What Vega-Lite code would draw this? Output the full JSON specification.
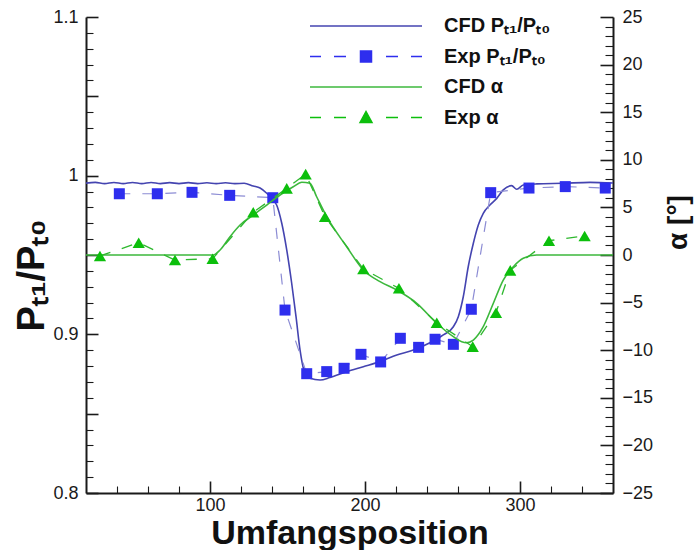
{
  "$schema": "https://vega.github.io/schema/vega-lite/v6.json",
  "width": 527,
  "height": 476,
  "autosize": {"type": "none"},
  "padding": {"left": 86, "top": 17, "right": 81, "bottom": 57},
  "background": "white",
  "config": {"view": {"stroke": null}, "font": "Liberation Sans"},
  "datasets": {
    "cfdP": [
      {"x": 20, "p": 0.9953}, {"x": 26, "p": 0.9958}, {"x": 32, "p": 0.995}, {"x": 38, "p": 0.9957},
      {"x": 44, "p": 0.995}, {"x": 50, "p": 0.9957}, {"x": 56, "p": 0.995}, {"x": 62, "p": 0.9957},
      {"x": 68, "p": 0.995}, {"x": 74, "p": 0.9956}, {"x": 80, "p": 0.995}, {"x": 86, "p": 0.9956},
      {"x": 92, "p": 0.995}, {"x": 98, "p": 0.9955}, {"x": 104, "p": 0.995}, {"x": 110, "p": 0.9955},
      {"x": 116, "p": 0.995}, {"x": 122, "p": 0.9952}, {"x": 127.9, "p": 0.9935}, {"x": 132.3, "p": 0.9922},
      {"x": 136.6, "p": 0.9889}, {"x": 143.0, "p": 0.9815}, {"x": 146.3, "p": 0.97}, {"x": 149.5, "p": 0.9532},
      {"x": 152.7, "p": 0.9322}, {"x": 155.5, "p": 0.9111}, {"x": 158.1, "p": 0.8901}, {"x": 160.6, "p": 0.8775},
      {"x": 164.5, "p": 0.8723}, {"x": 171.0, "p": 0.8712}, {"x": 177.4, "p": 0.8728}, {"x": 188.2, "p": 0.8765},
      {"x": 198.9, "p": 0.8796}, {"x": 209.7, "p": 0.8828}, {"x": 220.5, "p": 0.887}, {"x": 231.2, "p": 0.8901},
      {"x": 241.9, "p": 0.8947}, {"x": 250.5, "p": 0.8996}, {"x": 257.0, "p": 0.9048}, {"x": 260.2, "p": 0.9111},
      {"x": 263.4, "p": 0.9237}, {"x": 266.6, "p": 0.9426}, {"x": 269.9, "p": 0.9574}, {"x": 273.1, "p": 0.9689},
      {"x": 276.3, "p": 0.9763}, {"x": 280.6, "p": 0.9815}, {"x": 285.0, "p": 0.9857}, {"x": 289.2, "p": 0.991},
      {"x": 294.6, "p": 0.9937}, {"x": 297.9, "p": 0.9914}, {"x": 302.1, "p": 0.9941}, {"x": 310.8, "p": 0.9948},
      {"x": 327.9, "p": 0.9952}, {"x": 345.2, "p": 0.9958}, {"x": 360, "p": 0.9954}
    ],
    "expP": [
      {"x": 41.5, "p": 0.9886}, {"x": 66, "p": 0.9886}, {"x": 88.4, "p": 0.9895}, {"x": 112.7, "p": 0.9876},
      {"x": 140.5, "p": 0.9861}, {"x": 148.4, "p": 0.9153}, {"x": 162.4, "p": 0.8752}, {"x": 175.3, "p": 0.8765},
      {"x": 186.5, "p": 0.8786}, {"x": 197.4, "p": 0.8874}, {"x": 210.1, "p": 0.8826}, {"x": 222.8, "p": 0.8975},
      {"x": 234.6, "p": 0.8918}, {"x": 245.2, "p": 0.8969}, {"x": 257.0, "p": 0.8937}, {"x": 268.6, "p": 0.9158},
      {"x": 281.1, "p": 0.9893}, {"x": 305.8, "p": 0.9922}, {"x": 329.2, "p": 0.9931}, {"x": 355, "p": 0.9922}
    ],
    "cfdA": [
      {"x": 20, "a": 0}, {"x": 102.1, "a": 0}, {"x": 106.5, "a": 0.53}, {"x": 112.9, "a": 1.92},
      {"x": 119.4, "a": 3.15}, {"x": 127.9, "a": 4.2}, {"x": 136.6, "a": 5.25}, {"x": 145.2, "a": 6.3},
      {"x": 153.7, "a": 7.17}, {"x": 159.2, "a": 7.64}, {"x": 164.5, "a": 7.53}, {"x": 168.8, "a": 6.12},
      {"x": 175.3, "a": 4.02}, {"x": 188.2, "a": 0.87}, {"x": 198.9, "a": -1.58}, {"x": 209.7, "a": -2.8},
      {"x": 220.5, "a": -3.68}, {"x": 233.4, "a": -5.07}, {"x": 246.3, "a": -7.17}, {"x": 257.0, "a": -8.58},
      {"x": 262.4, "a": -9.11}, {"x": 265.6, "a": -9.21}, {"x": 269.9, "a": -8.93}, {"x": 276.3, "a": -7.53},
      {"x": 282.8, "a": -5.07}, {"x": 289.2, "a": -2.63}, {"x": 295.7, "a": -1.23}, {"x": 302.1, "a": -0.35},
      {"x": 310.8, "a": 0}, {"x": 360, "a": 0}
    ],
    "expA": [
      {"x": 29.0, "a": -0.1}, {"x": 54.0, "a": 1.29}, {"x": 77.4, "a": -0.53}, {"x": 101.7, "a": -0.39},
      {"x": 127.9, "a": 4.49}, {"x": 149.5, "a": 7.0}, {"x": 161.7, "a": 8.5}, {"x": 174.2, "a": 4.02},
      {"x": 198.9, "a": -1.47}, {"x": 221.9, "a": -3.5}, {"x": 246.3, "a": -7.11}, {"x": 269.5, "a": -9.63},
      {"x": 284.5, "a": -6.06}, {"x": 293.7, "a": -1.61}, {"x": 318.7, "a": 1.5}, {"x": 341.7, "a": 2.0}
    ]
  },
  "layer": [
    {
      "data": {"name": "cfdP"},
      "mark": {"type": "line", "strokeWidth": 1.6, "interpolate": "monotone"},
      "encoding": {
        "x": {"field": "x", "type": "quantitative", "scale": {"domain": [20, 360], "nice": false, "zero": false},
          "axis": {"orient": "bottom", "values": [100, 200, 300], "grid": false, "tickSize": -12, "tickWidth": 1.6, "tickColor": "#1a1a1a",
            "domainColor": "#1a1a1a", "domainWidth": 2, "labelPadding": 15, "labelFontSize": 18, "labelFont": "Liberation Sans", "labelColor": "#1a1a1a",
            "labelFlush": false, "labelOverlap": false,
            "title": "Umfangsposition", "titleFont": "Liberation Sans", "titleFontSize": 34, "titleFontWeight": "bold", "titleColor": "#111",
            "titleY": 50, "titleBaseline": "alphabetic"}},
        "y": {"field": "p", "type": "quantitative", "scale": {"domain": [0.8, 1.1], "nice": false, "zero": false},
          "axis": {"orient": "left", "values": [0.8, 0.85, 0.9, 0.95, 1, 1.05, 1.1], "format": "~g",
            "labelExpr": "round(datum.value * 100) % 10 == 0 ? datum.label : ''",
            "grid": false, "tickSize": -12, "tickWidth": 1.6, "tickColor": "#1a1a1a",
            "domainColor": "#1a1a1a", "domainWidth": 2, "labelPadding": 20, "labelFontSize": 18, "labelFont": "Liberation Sans", "labelColor": "#1a1a1a",
            "labelFlush": false, "labelOverlap": false,
            "title": "Pₜ₁/Pₜ₀", "titleFont": "Liberation Sans", "titleFontSize": 38, "titleFontWeight": "bold", "titleColor": "#111",
            "titleAngle": 270, "titleX": -43, "titleY": 258, "titleBaseline": "alphabetic", "titleAlign": "center"}},
        "color": {"datum": "CFD Pₜ₁/Pₜ₀", "type": "nominal",
          "scale": {"domain": ["CFD Pₜ₁/Pₜ₀", "Exp Pₜ₁/Pₜ₀", "CFD α", "Exp α"], "range": ["#4444b0", "#2e2eee", "#3cb83c", "#0cbf0c"]},
          "legend": {"orient": "none", "legendX": 269, "legendY": -2, "title": null, "padding": 0,
            "symbolSize": 400, "symbolStrokeWidth": 1.5, "labelOffset": 67, "rowPadding": 9.5,
            "labelFont": "Liberation Sans", "labelFontSize": 20, "labelFontWeight": "bold", "labelColor": "#111",
            "encode": {"symbols": {"update": {
              "shape": {"signal": "datum.value == 'Exp α' ? 'M-5.6,0H-4.5M-3.2,0H-2M2,0H3.2M4.5,0H5.6M-0.6,0.5L0,-0.6L0.6,0.5Z' : (datum.value == 'Exp Pₜ₁/Pₜ₀' ? 'M-5.6,0H-4.5M-3.2,0H-2M2,0H3.2M4.5,0H5.6M-0.55,-0.55H0.55V0.55H-0.55Z' : 'M-5.6,0H5.6')"},
              "stroke": {"signal": "datum.value == 'Exp α' ? '#2eb82e' : (datum.value == 'Exp Pₜ₁/Pₜ₀' ? '#8c8cd4' : scale('color', datum.value))"},
              "fill": {"signal": "scale('color', datum.value)"},
              "strokeWidth": {"value": 1.5},
              "opacity": {"value": 1}
            }}}}}
      }
    },
    {
      "data": {"name": "expP"},
      "mark": {"type": "line", "strokeWidth": 1.2, "strokeDash": [11, 12], "color": "#8c8cd4"},
      "encoding": {
        "x": {"field": "x", "type": "quantitative", "scale": {"domain": [20, 360], "nice": false, "zero": false},
          "axis": {"orient": "bottom", "values": [40, 60, 80, 120, 140, 160, 180, 220, 240, 260, 280, 320, 340], "grid": false, "labels": false, "domain": false,
            "tickSize": -7, "tickWidth": 1.1, "tickColor": "#1a1a1a", "title": null}},
        "y": {"field": "p", "type": "quantitative", "scale": {"domain": [0.8, 1.1], "nice": false, "zero": false},
          "axis": {"orient": "left", "values": [0.81, 0.82, 0.83, 0.84, 0.86, 0.87, 0.88, 0.89, 0.91, 0.92, 0.93, 0.94, 0.96, 0.97, 0.98, 0.99, 1.01, 1.02, 1.03, 1.04, 1.06, 1.07, 1.08, 1.09],
            "grid": false, "labels": false, "domain": false, "tickSize": -7, "tickWidth": 1.1, "tickColor": "#1a1a1a", "title": null}}
      }
    },
    {
      "data": {"name": "expP"},
      "mark": {"type": "point", "shape": "square", "filled": true, "size": 121, "opacity": 1},
      "encoding": {
        "x": {"field": "x", "type": "quantitative", "scale": {"domain": [20, 360], "nice": false, "zero": false}, "axis": null},
        "y": {"field": "p", "type": "quantitative", "scale": {"domain": [0.8, 1.1], "nice": false, "zero": false}, "axis": null},
        "color": {"datum": "Exp Pₜ₁/Pₜ₀", "type": "nominal"}
      }
    },
    {
      "data": {"name": "cfdA"},
      "mark": {"type": "line", "strokeWidth": 1.6, "interpolate": "monotone"},
      "encoding": {
        "x": {"field": "x", "type": "quantitative", "scale": {"domain": [20, 360], "nice": false, "zero": false}, "axis": null},
        "y": {"field": "a", "type": "quantitative", "scale": {"domain": [-25, 25], "nice": false, "zero": false},
          "axis": {"orient": "right", "values": [-25, -20, -15, -10, -5, 0, 5, 10, 15, 20, 25],
            "grid": false, "tickSize": -13, "tickWidth": 1.6, "tickColor": "#1a1a1a",
            "domainColor": "#1a1a1a", "domainWidth": 2, "labelPadding": 22, "labelFontSize": 18, "labelFont": "Liberation Sans", "labelColor": "#1a1a1a",
            "labelFlush": false, "labelOverlap": false,
            "title": "α [°]", "titleFont": "Liberation Sans", "titleFontSize": 28, "titleFontWeight": "bold", "titleColor": "#111",
            "titleAngle": 270, "titleX": 73, "titleY": 205, "titleBaseline": "alphabetic", "titleAlign": "center"}},
        "color": {"datum": "CFD α", "type": "nominal"}
      }
    },
    {
      "data": {"name": "expA"},
      "mark": {"type": "line", "strokeWidth": 1.3, "strokeDash": [11, 12], "color": "#2eb82e"},
      "encoding": {
        "x": {"field": "x", "type": "quantitative", "scale": {"domain": [20, 360], "nice": false, "zero": false}, "axis": null},
        "y": {"field": "a", "type": "quantitative", "scale": {"domain": [-25, 25], "nice": false, "zero": false},
          "axis": {"orient": "right", "values": [-24, -23, -22, -21, -19, -18, -17, -16, -14, -13, -12, -11, -9, -8, -7, -6, -4, -3, -2, -1, 1, 2, 3, 4, 6, 7, 8, 9, 11, 12, 13, 14, 16, 17, 18, 19, 21, 22, 23, 24],
            "grid": false, "labels": false, "domain": false, "tickSize": -8, "tickWidth": 1.1, "tickColor": "#1a1a1a", "title": null}}
      }
    },
    {
      "data": {"name": "expA"},
      "mark": {"type": "point", "shape": "triangle-up", "filled": true, "size": 150, "opacity": 1},
      "encoding": {
        "x": {"field": "x", "type": "quantitative", "scale": {"domain": [20, 360], "nice": false, "zero": false}, "axis": null},
        "y": {"field": "a", "type": "quantitative", "scale": {"domain": [-25, 25], "nice": false, "zero": false}, "axis": null},
        "color": {"datum": "Exp α", "type": "nominal"}
      }
    }
  ],
  "resolve": {"scale": {"x": "independent", "y": "independent"}}
}
